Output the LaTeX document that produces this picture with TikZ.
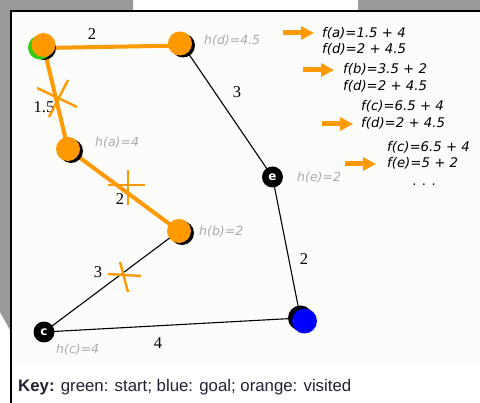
\documentclass[tikz,border=0pt]{standalone}
\usepackage{fontspec}
\setmainfont{Liberation Serif}
\newfontfamily\dvs{DejaVu Sans}
\newfontfamily\lsans{Liberation Sans}
\usetikzlibrary{arrows.meta}
\definecolor{vis}{HTML}{FF9900}
\definecolor{bgray}{HTML}{999999}
\definecolor{hgray}{HTML}{ABABAB}
\definecolor{goalblue}{HTML}{0000FF}
\definecolor{startgreen}{HTML}{33CC11}
\definecolor{keytext}{HTML}{222233}
\definecolor{panel}{HTML}{FCFCFA}
\pgfdeclarelayer{bg}
\pgfdeclarelayer{edges}
\pgfsetlayers{bg,edges,main}
\tikzset{
  vnode/.style={circle, fill=vis, minimum size=24pt, inner sep=0pt},
  shadownode/.style={circle, fill=black, minimum size=24pt, inner sep=0pt},
  bnode/.style={circle, fill=black, minimum size=21pt, inner sep=0pt, text=white, font=\dvs\bfseries\fontsize{12}{12}\selectfont},
  vedge/.style={draw=vis, line width=4pt},
  tedge/.style={draw=black, line width=1.1pt},
  wlabel/.style={font=\fontsize{16.5}{16.5}\selectfont, inner sep=0pt},
  hlabel/.style={font=\dvs\itshape\fontsize{12.5}{12.5}\selectfont, text=hgray, anchor=base west, inner sep=0pt},
  ftext/.style={font=\dvs\itshape\fontsize{13.3}{13.3}\selectfont, anchor=base west, inner sep=0pt},
  xmark/.style={draw=vis, line width=2.4pt},
  farrow/.style={draw=vis, line width=5pt, -{Triangle[width=13pt,length=13pt]}}
}
\begin{document}
\begin{tikzpicture}[x=1pt,y=-1pt]
\useasboundingbox (0,0) rectangle (480,403);
\begin{pgfonlayer}{bg}
\fill[white] (0,0) rectangle (480,403);
\fill[bgray] (0,0) -- (133,0) -- (133,11) -- (10,11) -- (10,330) -- (0,312) -- cycle;
\fill[bgray] (358,0) rectangle (480,11);
\fill[panel] (11,12) rectangle (480,364);
\draw[line width=2pt] (10,11.5) -- (480,11.5);
\draw[line width=2pt] (11,11.5) -- (11,403);
\end{pgfonlayer}

% nodes
\node[shadownode] (ssh) at (44,48) {};
\node[circle, fill=startgreen, minimum size=24pt, inner sep=0pt] (sg) at (40,47.5) {};
\node[vnode] (s) at (43.5,45) {};
\node[shadownode] (dsh) at (183,45.5) {};
\node[vnode] (d) at (180,43.5) {};
\node[shadownode] (ash) at (71,151) {};
\node[vnode] (a) at (68,149) {};
\node[shadownode] (bsh) at (182,233) {};
\node[vnode] (b) at (179,231) {};
\node[bnode] (e) at (272.5,177) {e};
\node[bnode] (c) at (44,332) {c};
\node[shadownode, minimum size=25pt] (gsh) at (300.5,318) {};
\node[circle, fill=goalblue, minimum size=25pt, inner sep=0pt] (g) at (304.5,321) {};

% edges
\begin{pgfonlayer}{edges}
\draw[vedge] (ssh.center) -- (dsh.center);
\draw[vedge] (ssh.center) -- (a.center);
\draw[vedge] (a.center) -- (b.center);
\draw[tedge] (b.center) -- (c.center);
\draw[tedge] (dsh.center) -- (e.center);
\draw[tedge] (e.center) -- (gsh.center);
\draw[tedge] (c.center) -- (gsh.center);
\end{pgfonlayer}

% edge weights
\node[wlabel] (w1) at (92,34) {2};
\node[wlabel] (w2) at (44,107.5) {1.5};
\node[wlabel] (w3) at (120,199) {2};
\node[wlabel] (w4) at (98,272) {3};
\node[wlabel] (w5) at (237,92) {3};
\node[wlabel] (w6) at (304,259) {2};
\node[wlabel] (w7) at (158,343) {4};

% cross marks
\draw[xmark] (37,88) -- (77,107);
\draw[xmark] (68,80) -- (49,117);
\draw[xmark] (108,185) -- (145,185);
\draw[xmark] (128,170) -- (128,205);
\draw[xmark] (108,274) -- (141,276);
\draw[xmark] (120,262) -- (128,292);

% heuristics
\node[hlabel] (hd) at (204,45) {h(d)=4.5};
\node[hlabel] (ha) at (95,147) {h(a)=4};
\node[hlabel] (hb) at (199,236) {h(b)=2};
\node[hlabel] (he) at (297,182) {h(e)=2};
\node[hlabel] (hc) at (56,354) {h(c)=4};

% f-value lists
\node[ftext] (f1a) at (322,38) {f(a)=1.5 + 4};
\node[ftext] (f1b) at (322,54) {f(d)=2 + 4.5};
\node[ftext] (f2a) at (343,74) {f(b)=3.5 + 2};
\node[ftext] (f2b) at (343,91) {f(d)=2 + 4.5};
\node[ftext] (f3a) at (361,111) {f(c)=6.5 + 4};
\node[ftext] (f3b) at (361,128) {f(d)=2 + 4.5};
\node[ftext] (f4a) at (387,152) {f(c)=6.5 + 4};
\node[ftext] (f4b) at (387,168) {f(e)=5 + 2};
\node[font=\dvs\fontsize{13}{13}\selectfont, inner sep=0pt] (dots) at (424,185) {. . .};

\coordinate (a1s) at (283,33); \coordinate (a1e) at (314,33);
\coordinate (a2s) at (303,70); \coordinate (a2e) at (334,70);
\coordinate (a3s) at (322,124); \coordinate (a3e) at (353,124);
\coordinate (a4s) at (345,164); \coordinate (a4e) at (376,164);
\draw[farrow] (a1s) -- (a1e);
\draw[farrow] (a2s) -- (a2e);
\draw[farrow] (a3s) -- (a3e);
\draw[farrow] (a4s) -- (a4e);

% key
\node[font=\lsans\fontsize{16.8}{16.8}\selectfont, text=keytext, anchor=base west, inner sep=0pt] (key) at (18,392) {\textbf{Key:} green: start; blue: goal; orange: visited};
\end{tikzpicture}
\end{document}
